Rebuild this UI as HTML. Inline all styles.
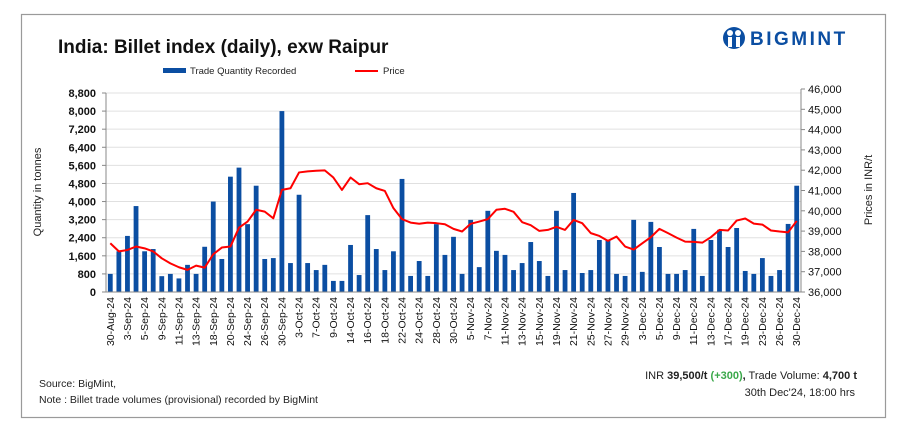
<!DOCTYPE html>
<html><head><meta charset="utf-8">
<style>
body{margin:0;background:#fff;font-family:"Liberation Sans",sans-serif;}
svg{display:block}
text{font-family:"Liberation Sans",sans-serif;}
</style></head>
<body>
<svg id="chart" width="911" height="437" viewBox="0 0 911 437">
<rect x="21.5" y="14.5" width="864" height="403" fill="#fff" stroke="#9a9a9a" stroke-width="1.2"/>
<text x="58" y="53" font-size="19" font-weight="bold" fill="#111">India: Billet index (daily), exw Raipur</text>
<g>
<circle cx="734" cy="38" r="11" fill="#0b4ea2"/>
<circle cx="730" cy="33" r="3" fill="#fff"/><circle cx="738" cy="33" r="3" fill="#fff"/>
<rect x="728" y="37" width="4" height="10" fill="#fff"/><rect x="736" y="37" width="4" height="10" fill="#fff"/>
<text x="750" y="45" font-size="19" font-weight="bold" fill="#0b4ea2" letter-spacing="2.5">BIGMINT</text>
</g>
<g>
<rect x="163" y="68" width="23" height="5" fill="#0b4ea2"/>
<text x="190" y="74" font-size="9.5" fill="#222">Trade Quantity Recorded</text>
<line x1="355" y1="71" x2="378" y2="71" stroke="#f00" stroke-width="2"/>
<text x="383" y="74" font-size="9.5" fill="#222">Price</text>
</g>
<g id="grid"></g><g id="bars"></g><g id="line"></g><g id="axes"></g>
<text transform="translate(41,192) rotate(-90)" text-anchor="middle" font-size="11" fill="#222">Quantity in tonnes</text>
<text transform="translate(872,190) rotate(-90)" text-anchor="middle" font-size="11" fill="#222">Prices in INR/t</text>
<text x="39" y="387" font-size="10.5" fill="#222">Source: BigMint,</text>
<text x="39" y="403" font-size="10.5" fill="#222">Note : Billet trade volumes (provisional) recorded by BigMint</text>
<text x="857" y="379" text-anchor="end" font-size="11" fill="#222">INR <tspan font-weight="bold">39,500/t</tspan> <tspan font-weight="bold" fill="#3aa84a">(+300)</tspan><tspan font-weight="bold">,</tspan> Trade Volume: <tspan font-weight="bold">4,700 t</tspan></text>
<text x="855" y="396" text-anchor="end" font-size="11" fill="#222">30th Dec'24, 18:00 hrs</text>
</svg>
<script>
const labels=["30-Aug-24","3-Sep-24","5-Sep-24","9-Sep-24","11-Sep-24","13-Sep-24","18-Sep-24","20-Sep-24","24-Sep-24","26-Sep-24","30-Sep-24","3-Oct-24","7-Oct-24","9-Oct-24","14-Oct-24","16-Oct-24","18-Oct-24","22-Oct-24","24-Oct-24","28-Oct-24","30-Oct-24","5-Nov-24","7-Nov-24","11-Nov-24","13-Nov-24","15-Nov-24","19-Nov-24","21-Nov-24","25-Nov-24","27-Nov-24","29-Nov-24","3-Dec-24","5-Dec-24","9-Dec-24","11-Dec-24","13-Dec-24","17-Dec-24","19-Dec-24","23-Dec-24","26-Dec-24","30-Dec-24"];
const quantity=[800,1800,2480,3800,1800,1900,700,800,600,1200,800,2000,4000,1460,5100,5500,3000,4700,1460,1500,8000,1280,4300,1280,970,1200,490,490,2080,750,3400,1900,970,1800,5000,710,1370,710,3000,1640,2440,800,3190,1100,3590,1820,1640,970,1280,2210,1370,710,3590,970,4380,840,970,2300,2300,800,710,3190,890,3100,1990,800,800,970,2790,710,2300,2750,1990,2830,930,800,1500,710,970,3010,4700];
const price=[38400,38000,38070,38240,38150,38000,37660,37410,37220,37090,37300,37200,37860,38190,38240,39170,39470,40050,39960,39630,41030,41110,41890,41940,41970,41990,41640,41030,41640,41310,41360,41110,40980,40130,39590,39420,39360,39420,39390,39340,39110,38980,39360,39470,39590,40050,40100,39950,39440,39290,39010,39060,39210,39060,39550,39390,38900,38760,38520,38730,38240,38090,38400,38700,39110,38900,38680,38480,38470,38430,38700,39060,39030,39520,39620,39370,39320,39030,38980,38940,39500];
const leftTicks=[0,800,1600,2400,3200,4000,4800,5600,6400,7200,8000,8800];
const rightTicks=[36000,37000,38000,39000,40000,41000,42000,43000,44000,45000,46000];
const NS="http://www.w3.org/2000/svg";
const X0=106,X1=801,N=quantity.length,step=(X1-X0)/N;
const yL=v=>292-v/8800*199;
const yR=v=>292-(v-36000)/10000*203;
const xC=i=>X0+step*(i+0.5);
function mk(tag,attrs,parent){const e=document.createElementNS(NS,tag);for(const k in attrs)e.setAttribute(k,attrs[k]);parent.appendChild(e);return e;}
const fmt=v=>v.toLocaleString("en-US");
const grid=document.getElementById("grid"),axes=document.getElementById("axes"),bars=document.getElementById("bars"),line=document.getElementById("line");
leftTicks.forEach(t=>{
  const gl=mk("line",{x1:X0,x2:X1,y1:yL(t),y2:yL(t),stroke:"#e0e0e0","stroke-width":1},grid);
  
  
  const tk=mk("line",{x1:X0-4,x2:X0,y1:yL(t),y2:yL(t),stroke:"#888"},axes);
  
  
  const tx=mk("text",{x:X0-10,y:yL(t)+4,"text-anchor":"end","font-size":"11","font-weight":"bold",fill:"#111"},axes);
  tx.textContent=fmt(t);
  
  
});
rightTicks.forEach(t=>{
  const tk=mk("line",{x1:X1,x2:X1+4,y1:yR(t),y2:yR(t),stroke:"#888"},axes);
  
  
  const tx=mk("text",{x:X1+7,y:yR(t)+4,"font-size":"11",fill:"#111"},axes);
  tx.textContent=fmt(t);
  
  
});
const la=mk("line",{x1:X0,x2:X0,y1:yL(8800),y2:292,stroke:"#888"},axes);


const ra=mk("line",{x1:X1,x2:X1,y1:yR(46000),y2:292,stroke:"#888"},axes);


const xa=mk("line",{x1:X0,x2:X1,y1:292,y2:292,stroke:"#888"},axes);


quantity.forEach((v,i)=>{
  const r=mk("rect",{x:xC(i)-2.4,y:yL(v),width:4.8,height:292-yL(v),fill:"#0b4ea2"},bars);
  
  
});
const p=mk("polyline",{points:price.map((v,i)=>xC(i)+","+yR(v)).join(" "),fill:"none",stroke:"#f00","stroke-width":2,"stroke-linejoin":"round"},line);


labels.forEach((l,k)=>{
  const i=k*2,x=xC(i)+3.5;
  const t=mk("text",{transform:`translate(${x},297) rotate(-90)`,"text-anchor":"end","font-size":"10.5",fill:"#111"},axes);
  t.textContent=l;
  
  
});
</script>
</body></html>
